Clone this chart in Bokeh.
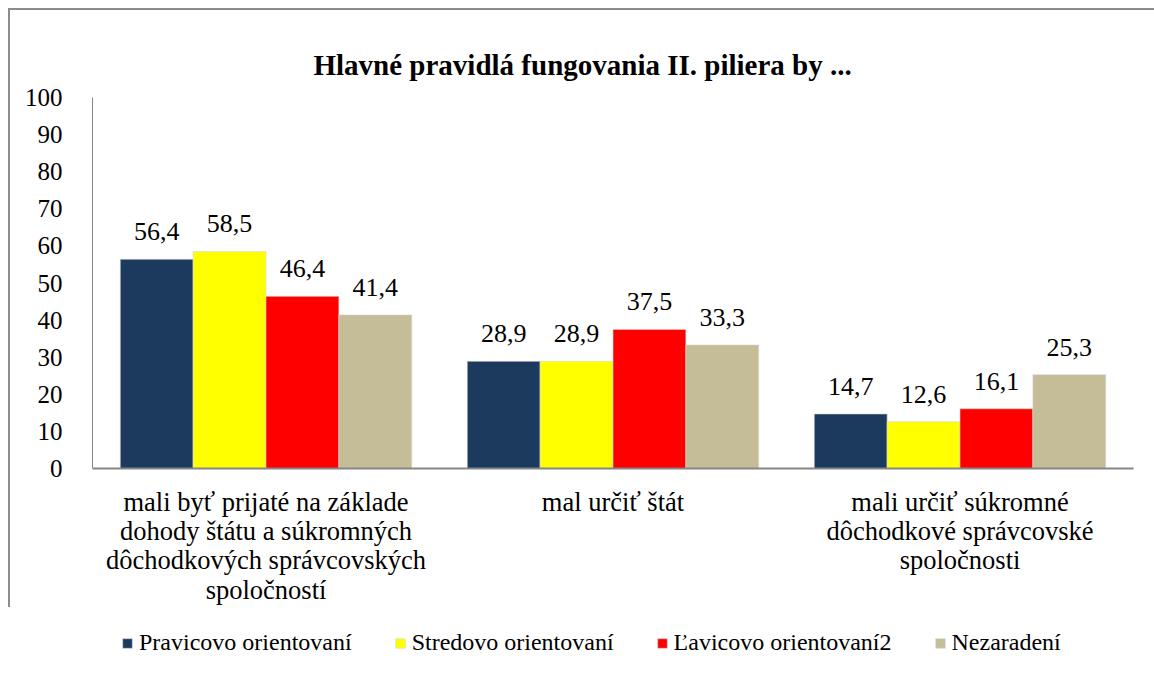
from bokeh.plotting import figure
from bokeh.models import ColumnDataSource, FactorRange, Range1d, FixedTicker, LabelSet, Legend
from bokeh.transform import dodge
from bokeh.embed import file_html
from bokeh.resources import INLINE

categories = [
    "mali byť prijaté na základe\ndohody štátu a súkromných\ndôchodkových správcovských\nspoločností",
    "mal určiť štát",
    "mali určiť súkromné\ndôchodkové správcovské\nspoločnosti",
]
series = ["Pravicovo orientovaní", "Stredovo orientovaní", "Ľavicovo orientovaní2", "Nezaradení"]
pravicovo = [56.4, 28.9, 14.7]
stredovo = [58.5, 28.9, 12.6]
lavicovo = [46.4, 37.5, 16.1]
nezaradeni = [41.4, 33.3, 25.3]
colors = ["#1B3A5E", "#FFFF00", "#FF0000", "#C4BD97"]
y_ticks = [0, 10, 20, 30, 40, 50, 60, 70, 80, 90, 100]

FONT = "Liberation Serif, serif"

p = figure(
    x_range=FactorRange(*categories, range_padding=0),
    y_range=Range1d(0, 100),
    frame_width=1041, frame_height=371,
    output_backend="svg", toolbar_location=None,
    min_border_left=82, min_border_right=11, min_border_top=87, min_border_bottom=0,
)
p.styles = {"margin-left": "8px", "margin-top": "8px",
            "border-left": "2px solid #8c8c8c", "border-top": "2px solid #8c8c8c"}
p.outline_line_color = None
p.xgrid.grid_line_color = None
p.ygrid.grid_line_color = None

p.title.text = "Hlavné pravidlá fungovania II. piliera by ..."
p.title.text_font = FONT
p.title.text_font_size = "29px"
p.title.text_font_style = "bold"
p.title.text_color = "#000000"
p.title.align = "left"
p.title.offset = 221
p.title.standoff = 34

values = [pravicovo, stredovo, lavicovo, nezaradeni]
offsets = [-0.315, -0.105, 0.105, 0.315]
items = []
for name, vals, col, off in zip(series, values, colors, offsets):
    src = ColumnDataSource(dict(x=categories, y=vals, lab=[f"{v:.1f}".replace(".", ",") for v in vals]))
    r = p.vbar(x=dodge("x", off, range=p.x_range), top="y", width=0.21, source=src,
               fill_color=col, line_color="#d9d9d9", line_width=0.6)
    items.append((name, [r]))
    lbl = LabelSet(x=dodge("x", off, range=p.x_range), y="y", text="lab", source=src,
                   text_align="center", text_baseline="bottom", y_offset=19,
                   text_font=FONT, text_font_size="26px", text_color="#000000")
    p.add_layout(lbl)

p.yaxis.ticker = FixedTicker(ticks=y_ticks)
p.yaxis.major_tick_line_color = None
p.yaxis.minor_tick_line_color = None
p.yaxis.axis_line_color = "#868686"
p.yaxis.major_label_standoff = 24
p.yaxis.major_label_text_font = FONT
p.yaxis.major_label_text_font_size = "25px"
p.yaxis.major_label_text_color = "#000000"

p.xaxis.major_tick_line_color = None
p.xaxis.axis_line_color = "#868686"
p.xaxis.axis_line_width = 2
p.xaxis.major_label_standoff = 12
p.xaxis.major_label_text_font = FONT
p.xaxis.major_label_text_font_size = "26.5px"
p.xaxis.major_label_text_line_height = 0.98
p.xaxis.major_label_text_color = "#000000"

# legend placed from the right side panel (not clipped), positioned under the axis labels
legend = Legend(items=items, orientation="horizontal", location=(-1012, -188),
                label_text_font=FONT, label_text_font_size="24px", label_text_color="#000000",
                glyph_width=12, glyph_height=12, label_standoff=6, spacing=42,
                border_line_color=None, background_fill_alpha=0, margin=0, padding=4)
p.add_layout(legend, "right")

open("out.html", "w").write(file_html(p, INLINE))
